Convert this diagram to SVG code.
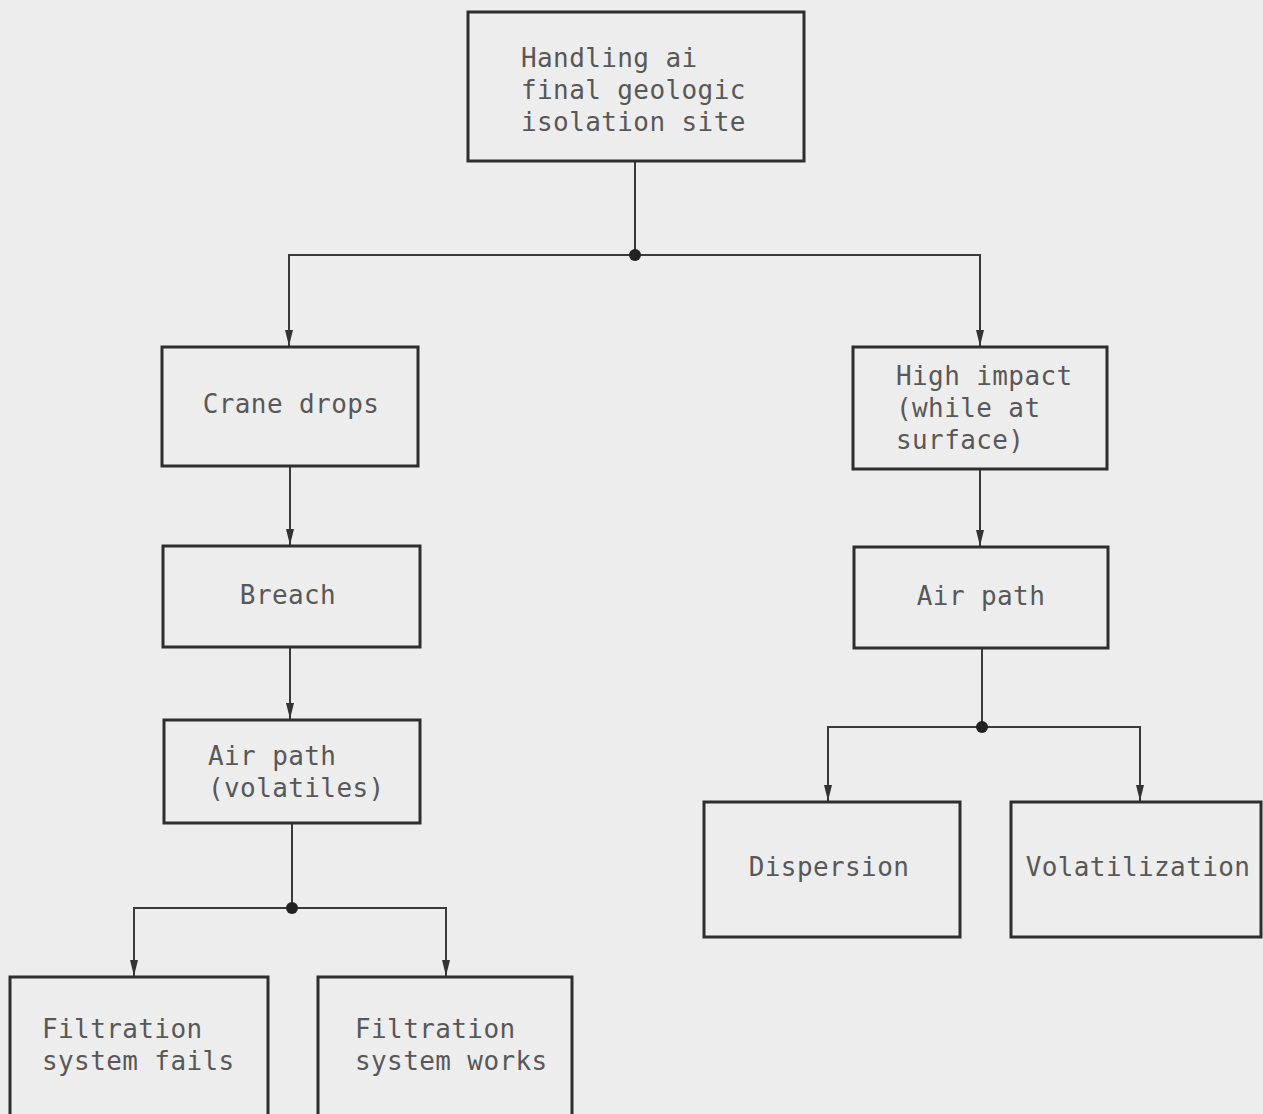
<svg xmlns="http://www.w3.org/2000/svg" width="1263" height="1114" viewBox="0 0 1263 1114">
  <style>
    .box { fill: none; stroke: #2e2e2e; stroke-width: 3; }
    .lbl { font-family: "DejaVu Sans Mono", "Liberation Mono", monospace; font-size: 26px; letter-spacing: 0.4px; fill: #585858; }
    .wire { fill: none; stroke: #3a3a3a; stroke-width: 2; }
    .dot { fill: #222222; }
  </style>
  <defs>
    <marker id="arrow" viewBox="0 0 16 10" refX="16" refY="5" markerWidth="16" markerHeight="10" markerUnits="userSpaceOnUse" orient="auto">
      <path d="M0,1 L16,5 L0,9 Z" fill="#333333"/>
    </marker>
  </defs>
  <rect width="1263" height="1114" fill="#ededed"/>

  <g id="connectors">
    <!-- top branch -->
    <line class="wire" x1="635" y1="161" x2="635" y2="255"/>
    <path class="wire" d="M635,255 H289 V346" marker-end="url(#arrow)"/>
    <path class="wire" d="M635,255 H980 V346" marker-end="url(#arrow)"/>
    <circle class="dot" cx="635" cy="255" r="6"/>
    <!-- left chain -->
    <line class="wire" x1="290" y1="466" x2="290" y2="545" marker-end="url(#arrow)"/>
    <line class="wire" x1="290" y1="647" x2="290" y2="719" marker-end="url(#arrow)"/>
    <line class="wire" x1="292" y1="823" x2="292" y2="908"/>
    <path class="wire" d="M292,908 H134 V976" marker-end="url(#arrow)"/>
    <path class="wire" d="M292,908 H446 V976" marker-end="url(#arrow)"/>
    <circle class="dot" cx="292" cy="908" r="6"/>
    <!-- right chain -->
    <line class="wire" x1="980" y1="469" x2="980" y2="546" marker-end="url(#arrow)"/>
    <line class="wire" x1="982" y1="648" x2="982" y2="727"/>
    <path class="wire" d="M982,727 H828 V801" marker-end="url(#arrow)"/>
    <path class="wire" d="M982,727 H1140 V801" marker-end="url(#arrow)"/>
    <circle class="dot" cx="982" cy="727" r="6"/>
  </g>

  <g id="handling">
    <rect class="box" x="468" y="12" width="336" height="149"/>
    <text class="lbl" x="521" y="67">Handling ai</text>
    <text class="lbl" x="521" y="99">final geologic</text>
    <text class="lbl" x="521" y="131">isolation site</text>
  </g>

  <g id="crane-drops">
    <rect class="box" x="162" y="347" width="256" height="119"/>
    <text class="lbl" x="291" y="413" text-anchor="middle">Crane drops</text>
  </g>

  <g id="breach">
    <rect class="box" x="163" y="546" width="257" height="101"/>
    <text class="lbl" x="288" y="604" text-anchor="middle">Breach</text>
  </g>

  <g id="air-path-volatiles">
    <rect class="box" x="164" y="720" width="256" height="103"/>
    <text class="lbl" x="208" y="765">Air path</text>
    <text class="lbl" x="208" y="797">(volatiles)</text>
  </g>

  <g id="filtration-fails">
    <rect class="box" x="10" y="977" width="258" height="150"/>
    <text class="lbl" x="42" y="1038">Filtration</text>
    <text class="lbl" x="42" y="1070">system fails</text>
  </g>

  <g id="filtration-works">
    <rect class="box" x="318" y="977" width="254" height="150"/>
    <text class="lbl" x="355" y="1038">Filtration</text>
    <text class="lbl" x="355" y="1070">system works</text>
  </g>

  <g id="high-impact">
    <rect class="box" x="853" y="347" width="254" height="122"/>
    <text class="lbl" x="896" y="385">High impact</text>
    <text class="lbl" x="896" y="417">(while at</text>
    <text class="lbl" x="896" y="449">surface)</text>
  </g>

  <g id="air-path">
    <rect class="box" x="854" y="547" width="254" height="101"/>
    <text class="lbl" x="981" y="605" text-anchor="middle">Air path</text>
  </g>

  <g id="dispersion">
    <rect class="box" x="704" y="802" width="256" height="135"/>
    <text class="lbl" x="829" y="876" text-anchor="middle">Dispersion</text>
  </g>

  <g id="volatilization">
    <rect class="box" x="1011" y="802" width="250" height="135"/>
    <text class="lbl" x="1138" y="876" text-anchor="middle">Volatilization</text>
  </g>
</svg>
